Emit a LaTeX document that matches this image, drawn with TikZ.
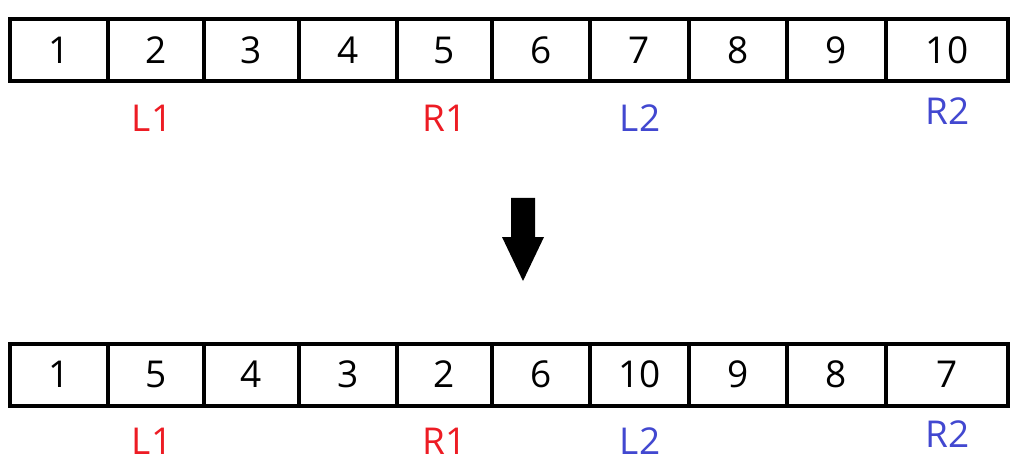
\documentclass[tikz,border=0pt]{standalone}
\usepackage{fontspec}
\setmainfont{Open Sans}
\usepackage{tikz}

\definecolor{lred}{RGB}{237,28,36}
\definecolor{lblue}{RGB}{66,72,208}

\begin{document}
\begin{tikzpicture}[x=1pt,y=-1pt,
    cell/.style={rectangle,draw=black,line width=4pt,inner sep=0pt,
      minimum width=#1pt,minimum height=62pt,font=\fontsize{37}{40}\selectfont},
    ptr/.style={text=#1,inner sep=0pt,font=\fontsize{37}{40}\selectfont}]
    \useasboundingbox (0,0) rectangle (1025,465);
    % top row
    \foreach \l/\r/\v [count=\i] in {10/108/1,108/204/2,204/299/3,299/397/4,397/492/5,
        492/590/6,590/689/7,689/787/8,787/886/9,886/1008/10}
       \node[cell={\r-\l}](t\i) at ({(\l+\r)/2},50) {\v};
    \node[ptr=lred](tl1) at (152,118) {L1};
    \node[ptr=lred](tr1) at (445,118) {R1};
    \node[ptr=lblue](tl2) at (640,118) {L2};
    \node[ptr=lblue](tr2) at (948,111) {R2};
    % arrow
    \fill[black] (511,198) -- (535,198) -- (535,237) -- (544,237) -- (523,281)
                 -- (502,237) -- (511,237) -- cycle;
    % bottom row
    \foreach \l/\r/\v [count=\i] in {10/108/1,108/204/5,204/299/4,299/397/3,397/492/2,
        492/590/6,590/689/10,689/787/9,787/886/8,886/1008/7}
       \node[cell={\r-\l}](b\i) at ({(\l+\r)/2},374.5) {\v};
    \node[ptr=lred](bl1) at (152,441) {L1};
    \node[ptr=lred](br1) at (445,441) {R1};
    \node[ptr=lblue](bl2) at (640,441) {L2};
    \node[ptr=lblue](br2) at (948,434) {R2};
\end{tikzpicture}
\end{document}
